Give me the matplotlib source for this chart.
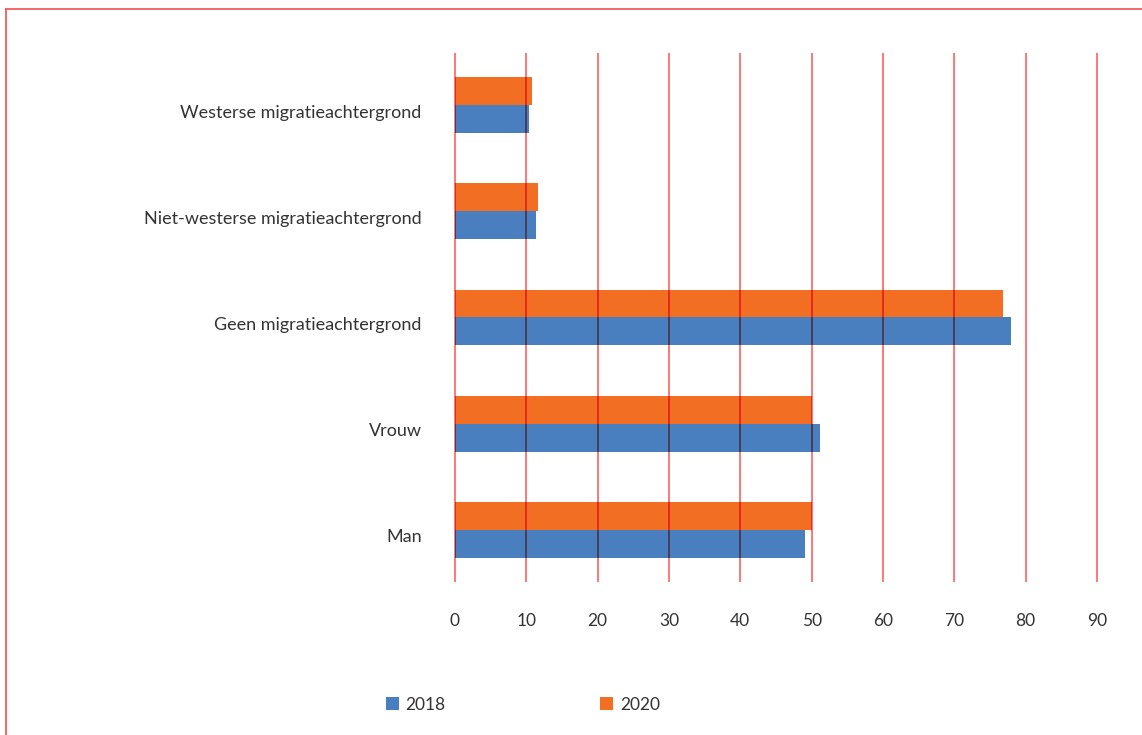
import matplotlib.pyplot as plt
import matplotlib.transforms as mtransforms
from matplotlib.lines import Line2D
from matplotlib.collections import LineCollection
import numpy as np

plt.rcParams['font.family'] = ['Lato', 'DejaVu Sans']

# Categories from bottom to top
categories = ['Man', 'Vrouw', 'Geen migratieachtergrond',
              'Niet-westerse migratieachtergrond', 'Westerse migratieachtergrond']
values_2018 = [49.0, 51.1, 78.0, 11.3, 10.4]
values_2020 = [50.0, 50.0, 76.8, 11.7, 10.8]
x_ticks = [0, 10, 20, 30, 40, 50, 60, 70, 80, 90]

blue = '#4a7fbf'
orange = '#f26e22'
grid_red = '#ff1a1a'
text_col = '#333333'

fig = plt.figure(figsize=[11.42, 7.35], dpi=100)
ax = fig.add_axes([0.3984, 0.2082, 0.5622, 0.7197])

y = np.arange(len(categories))
h = 0.262
bars18 = ax.barh(y - h / 2, values_2018, height=h, color=blue, zorder=2, label='2018')
bars20 = ax.barh(y + h / 2, values_2020, height=h, color=orange, zorder=2, label='2020')

ax.set_xlim(0, 90)
ax.set_ylim(-0.49, 4.49)

# red vertical gridlines drawn over the bars
ax.vlines(x_ticks, -0.49, 4.49, colors=grid_red, linewidth=1.1, alpha=0.75,
          zorder=3, clip_on=False)

# darker gridline segments where they cross a bar
for bars, col in [(bars18, '#3a3e5c'), (bars20, '#e02a18')]:
    for b in bars:
        segs = [[(xv, -0.49), (xv, 4.49)] for xv in x_ticks]
        lc = LineCollection(segs, colors=col, linewidths=1.3, zorder=4)
        ax.add_collection(lc)
        lc.set_clip_path(b)

for s in ax.spines.values():
    s.set_visible(False)

ax.set_xticks(x_ticks)
ax.set_xticklabels([str(t) for t in x_ticks], fontsize=12.5, color=text_col)
ax.set_yticks(y)
ax.set_yticklabels(categories, fontsize=13, color=text_col)
ax.tick_params(axis='x', length=0, pad=22)
ax.tick_params(axis='y', length=0, pad=24)

# category labels sit a little below the bar pair centre
shift = mtransforms.ScaledTranslation(0, -6 / 100, fig.dpi_scale_trans)
for lbl in ax.get_yticklabels():
    lbl.set_transform(lbl.get_transform() + shift)

leg = fig.legend(handles=[bars18, bars20], labels=['2018', '2020'], ncol=2,
                 loc='center', bbox_to_anchor=(0.458, 0.041), frameon=False,
                 handlelength=0.75, handleheight=0.75, handletextpad=0.4,
                 columnspacing=8.9, fontsize=12.5)
for t in leg.get_texts():
    t.set_color(text_col)

# frame lines along the top and left edge
fig.add_artist(Line2D([6 / 1142, 1], [1 - 9 / 735, 1 - 9 / 735],
                      transform=fig.transFigure, color='#f25c5c', linewidth=1.3))
fig.add_artist(Line2D([6 / 1142, 6 / 1142], [0, 1 - 9 / 735],
                      transform=fig.transFigure, color='#f25c5c', linewidth=1.3))

plt.savefig('out.png', dpi=100)
